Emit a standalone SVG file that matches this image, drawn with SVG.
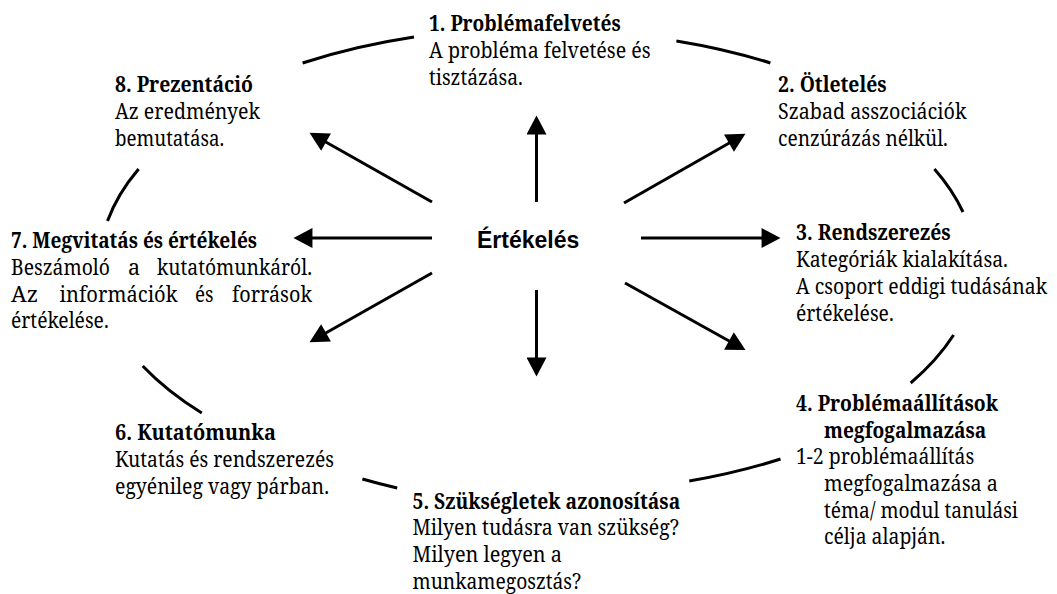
<svg xmlns="http://www.w3.org/2000/svg" width="1057" height="594" viewBox="0 0 1057 594">
<style>
.n text{font-family:'Noto Serif','DejaVu Serif',serif;font-size:21.5px;fill:#000}
.n .h{font-weight:bold}
.c{font-family:'Liberation Sans',Arial,sans-serif;font-weight:bold;font-size:23px;fill:#000}
.arc{fill:none;stroke:#000;stroke-width:3}
.ar{fill:none;stroke:#000;stroke-width:3;marker-end:url(#ah)}
</style>
<defs>
<marker id="ah" markerUnits="userSpaceOnUse" markerWidth="20" markerHeight="20" viewBox="0 0 18 19" refX="8" refY="9.5" orient="auto">
<path d="M0,0 L18,9.5 L0,19 z" fill="#000"/>
</marker>
</defs>
<rect width="1057" height="594" fill="#fff"/>
<g id="connectors">
<path class="arc" d="M302.6,63 A440,235 0 0 1 414,37"/>
<path class="arc" d="M676.4,41 A440,235 0 0 1 770.4,63"/>
<path class="arc" d="M934.4,169 A440,235 0 0 1 963,212"/>
<path class="arc" d="M953.6,335 A440,235 0 0 1 910.7,383"/>
<path class="arc" d="M780.5,459 A440,235 0 0 1 689.3,481"/>
<path class="arc" d="M397.2,488 A440,235 0 0 1 362.4,479"/>
<path class="arc" d="M201.8,413 A440,235 0 0 1 142.7,366"/>
<path class="arc" d="M107.5,221 A440,235 0 0 1 138.6,169"/>
<line class="ar" x1="536.5" y1="202" x2="536.5" y2="126"/>
<line class="ar" x1="624" y1="203" x2="736.3" y2="139"/>
<line class="ar" x1="641" y1="238" x2="770" y2="238"/>
<line class="ar" x1="625" y1="283" x2="736.3" y2="345"/>
<line class="ar" x1="536.5" y1="290" x2="536.5" y2="366"/>
<line class="ar" x1="432" y1="273" x2="318.7" y2="337"/>
<line class="ar" x1="432" y1="238" x2="304" y2="238"/>
<line class="ar" x1="432" y1="202" x2="318.7" y2="138"/>
</g>
<g id="center"><text class="c" x="477" y="248">Értékelés</text></g>
<g class="n">
<g id="n1">
<text class="h" x="429" y="31" textLength="191.6" lengthAdjust="spacingAndGlyphs">1. Problémafelvetés</text>
<text x="429" y="58" textLength="221.6" lengthAdjust="spacingAndGlyphs">A probléma felvetése és</text>
<text x="429" y="85" textLength="93.9" lengthAdjust="spacingAndGlyphs">tisztázása.</text>
</g>
<g id="n2">
<text class="h" x="778" y="92" textLength="108.6" lengthAdjust="spacingAndGlyphs">2. Ötletelés</text>
<text x="778" y="119" textLength="188.4" lengthAdjust="spacingAndGlyphs">Szabad asszociációk</text>
<text x="778" y="146" textLength="169.9" lengthAdjust="spacingAndGlyphs">cenzúrázás nélkül.</text>
</g>
<g id="n3">
<text class="h" x="796" y="240" textLength="154.6" lengthAdjust="spacingAndGlyphs">3. Rendszerezés</text>
<text x="796" y="267" textLength="212" lengthAdjust="spacingAndGlyphs">Kategóriák kialakítása.</text>
<text x="796" y="294" textLength="251" lengthAdjust="spacingAndGlyphs">A csoport eddigi tudásának</text>
<text x="796" y="321" textLength="97.7" lengthAdjust="spacingAndGlyphs">értékelése.</text>
</g>
<g id="n4">
<text class="h" x="796" y="411" textLength="202" lengthAdjust="spacingAndGlyphs">4. Problémaállítások</text>
<text class="h" x="824" y="437.7" textLength="162.2" lengthAdjust="spacingAndGlyphs">megfogalmazása</text>
<text x="796" y="464.4" textLength="178.2" lengthAdjust="spacingAndGlyphs">1-2 problémaállítás</text>
<text x="824" y="491" textLength="174" lengthAdjust="spacingAndGlyphs">megfogalmazása a</text>
<text x="824" y="517.7" textLength="194" lengthAdjust="spacingAndGlyphs">téma/ modul tanulási</text>
<text x="824" y="544.4" textLength="121.3" lengthAdjust="spacingAndGlyphs">célja alapján.</text>
</g>
<g id="n5">
<text class="h" x="412.5" y="508.5" textLength="267.7" lengthAdjust="spacingAndGlyphs">5. Szükségletek azonosítása</text>
<text x="412.5" y="535.2" textLength="266.4" lengthAdjust="spacingAndGlyphs">Milyen tudásra van szükség?</text>
<text x="412.5" y="561.9" textLength="149.5" lengthAdjust="spacingAndGlyphs">Milyen legyen a</text>
<text x="412.5" y="588.6" textLength="168.6" lengthAdjust="spacingAndGlyphs">munkamegosztás?</text>
</g>
<g id="n6">
<text class="h" x="115" y="440" textLength="161" lengthAdjust="spacingAndGlyphs">6. Kutatómunka</text>
<text x="115" y="467" textLength="219" lengthAdjust="spacingAndGlyphs">Kutatás és rendszerezés</text>
<text x="115" y="494" textLength="214" lengthAdjust="spacingAndGlyphs">egyénileg vagy párban.</text>
</g>
<g id="n7">
<text class="h" x="11" y="248" textLength="246" lengthAdjust="spacingAndGlyphs">7. Megvitatás és értékelés</text>
<text x="11" y="275" textLength="99" lengthAdjust="spacingAndGlyphs">Beszámoló</text>
<text x="128" y="275">a</text>
<text x="157" y="275" textLength="155" lengthAdjust="spacingAndGlyphs">kutatómunkáról.</text>
<text x="11" y="301.7" textLength="27" lengthAdjust="spacingAndGlyphs">Az</text>
<text x="59.5" y="301.7" textLength="118" lengthAdjust="spacingAndGlyphs">információk</text>
<text x="195" y="301.7" textLength="18.5" lengthAdjust="spacingAndGlyphs">és</text>
<text x="232" y="301.7" textLength="80" lengthAdjust="spacingAndGlyphs">források</text>
<text x="11" y="328.4" textLength="97.7" lengthAdjust="spacingAndGlyphs">értékelése.</text>
</g>
<g id="n8">
<text class="h" x="115" y="92" textLength="138" lengthAdjust="spacingAndGlyphs">8. Prezentáció</text>
<text x="115" y="119" textLength="145" lengthAdjust="spacingAndGlyphs">Az eredmények</text>
<text x="115" y="146" textLength="109.2" lengthAdjust="spacingAndGlyphs">bemutatása.</text>
</g>
</g>
</svg>
